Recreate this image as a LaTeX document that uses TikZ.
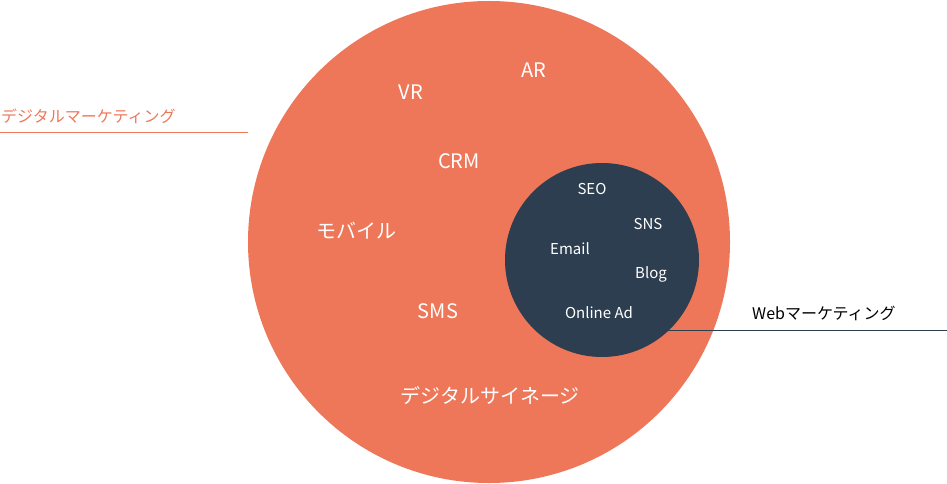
\documentclass[tikz,border=0pt]{standalone}
\usepackage{fontspec}
\setmainfont{Noto Sans CJK JP}
\definecolor{outerorange}{HTML}{EE7759}
\definecolor{innernavy}{HTML}{2C3E50}
\tikzset{
  biglabel/.style={text=white, font=\fontsize{20}{24}\selectfont},
  smalllabel/.style={text=white, font=\fontsize{15}{18}\selectfont},
  sidelabel/.style={font=\fontsize{16}{19}\selectfont, anchor=west, inner sep=0pt}
}
\begin{document}
\begin{tikzpicture}[x=1pt, y=-1pt]
  \useasboundingbox (0,0) rectangle (947,484);
  % circles
  \node [name=digital, circle, fill=outerorange, minimum size=482pt, inner sep=0pt] at (489,242) {};
  \node [name=web, circle, fill=innernavy, minimum size=194pt, inner sep=0pt] at (602,260) {};

  % outer labels
  \node [name=vr, biglabel] at (411,92) {VR};
  \node [name=ar, biglabel] at (534,70) {AR};
  \node [name=crm, biglabel] at (459,161) {CRM};
  \node [name=mobile, biglabel] at (356,231) {モバイル};
  \node [name=sms, biglabel] at (438,311) {SMS};
  \node [name=signage, biglabel] at (490,396) {デジタルサイネージ};

  % inner labels
  \node [name=seo, smalllabel] at (592,189) {SEO};
  \node [name=sns, smalllabel] at (648,224) {SNS};
  \node [name=email, smalllabel] at (570,249) {Email};
  \node [name=blog, smalllabel] at (651,274) {Blog};
  \node [name=onlinead, smalllabel] at (599,313) {Online Ad};

  % side labels
  \node [name=digital_lbl, sidelabel, text=outerorange] at (1,116) {デジタルマーケティング};
  \coordinate (digital_end) at (0,133);
  \path [draw, outerorange, line width=1pt] (digital_end) -- (digital.west |- digital_end);
  \node [name=web_lbl, sidelabel, text=black] at (752,313) {Webマーケティング};
  \coordinate (web_end) at (947,330);
  \coordinate (web_start) at (665,330);
  \path [draw, innernavy, line width=1pt] (web_start) -- (web_end);
\end{tikzpicture}
\end{document}
